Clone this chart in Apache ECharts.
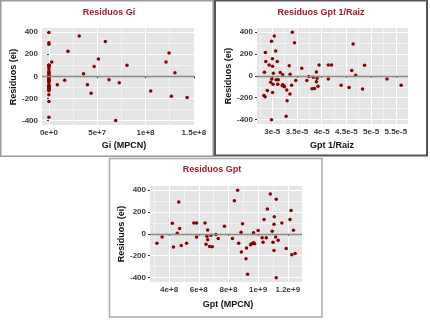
<!DOCTYPE html>
<html>
<head>
<meta charset="utf-8">
<script src="https://cdn.jsdelivr.net/npm/echarts@6/dist/echarts.min.js"></script>
<style>
html,body{margin:0;padding:0;background:#fff;}
#c{width:430px;height:324px;}
</style>
</head>
<body>
<div id="c"></div>
<script>
// Residuals (ei), shared by the three panels
const residuos = [-85,-30,291,97,-121,6,48,-106,-85,100,
  100,-30,100,36,-21,-94,-55,-12,-115,-118,
  -6,-42,70,397,303,91,15,-42,-85,-167,
  -130,-227,-370,-100,-91,-82,-91,9,30,-36,
  -76,-36,130,227,364,315,157,88,24,-30,
  -76,-58,-152,-400,100,-133,130,212,33,-191,-179];
// Gi (MPCN)
const gi = [0,0,0,0,0,0,0,0,0,0,
  0,0,0,0,0,0,0,0,0,0,
  0,0,0,0,0,0,0,0,0,0,
  0,0,0,0,0,0,0,0,0,0,
  3.99e7,1.63e7,2.9e6,1.97e7,3.14e7,5.84e7,5.12e7,4.68e7,3.58e7,6.22e7,
  8.7e6,7.28e7,4.37e7,6.91e7,8.08e7,1.054e8,1.212e8,1.243e8,1.304e8,1.43e8,1.267e8];
// Gpt (MPCN)
const gpt = [3.18e8,3.53e8,4.65e8,4.22e8,4.29e8,4.55e8,4.71e8,4.82e8,5.18e8,5.67e8,
  5.85e8,5.85e8,6.42e8,6.60e8,6.55e8,6.49e8,6.60e8,6.82e8,6.73e8,6.91e8,
  7.15e8,7.31e8,7.73e8,8.62e8,8.40e8,8.95e8,8.85e8,8.27e8,8.69e8,8.87e8,
  9.22e8,9.18e8,9.29e8,9.49e8,9.56e8,9.69e8,9.76e8,9.69e8,1.000e9,1.027e9,
  1.033e9,1.055e9,1.040e9,1.062e9,1.082e9,1.122e9,1.109e9,1.107e9,1.095e9,1.118e9,
  1.100e9,1.135e9,1.107e9,1.122e9,1.160e9,1.189e9,1.215e9,1.222e9,1.238e9,1.227e9,1.249e9];
// Gpt 1/Raiz
const gptRaiz = [5.608e-5,5.322e-5,4.637e-5,4.868e-5,4.828e-5,4.688e-5,4.608e-5,4.555e-5,4.394e-5,4.200e-5,
  4.134e-5,4.134e-5,3.947e-5,3.893e-5,3.907e-5,3.925e-5,3.893e-5,3.829e-5,3.855e-5,3.804e-5,
  3.740e-5,3.699e-5,3.597e-5,3.406e-5,3.450e-5,3.343e-5,3.361e-5,3.477e-5,3.392e-5,3.358e-5,
  3.293e-5,3.300e-5,3.281e-5,3.246e-5,3.234e-5,3.212e-5,3.201e-5,3.212e-5,3.162e-5,3.120e-5,
  3.111e-5,3.079e-5,3.101e-5,3.069e-5,3.040e-5,2.985e-5,3.003e-5,3.006e-5,3.022e-5,2.991e-5,
  3.015e-5,2.968e-5,3.006e-5,2.985e-5,2.936e-5,2.900e-5,2.869e-5,2.861e-5,2.842e-5,2.855e-5,2.830e-5];
// Tick spacing per axis
const yStep = 200;
const giStep = 5e7;
const raizStep = 5e-6;
const gptStep = 2e8;
const zeroRef = 0;

const titles = ['Residuos Gi', 'Residuos Gpt 1/Raiz', 'Residuos Gpt'];
const xTitles = ['Gi (MPCN)', 'Gpt 1/Raiz', 'Gpt (MPCN)'];
const yTitle = 'Residuos (ei)';

const FONT = '"Liberation Sans", Arial, sans-serif';
const PT = '#8B0000';

function ext(a){
  const mn = Math.min.apply(null,a), mx = Math.max.apply(null,a);
  const p = (mx-mn)*0.05;
  return [mn-p, mx+p];
}
function sci(v){
  if (Math.abs(v) < 1e-30) return '0e+0';
  const e = Math.floor(Math.log10(Math.abs(v)) + 1e-9);
  const m = parseFloat((v/Math.pow(10,e)).toPrecision(4));
  return m + 'e' + (e<0?'-':'+') + Math.abs(e);
}
function xAxisCfg(gridIndex, arr, step){
  const e = ext(arr);
  return {
    type:'value', gridIndex, min:e[0], max:e[1], minInterval:step, maxInterval:step, splitNumber:3,
    axisLine:{show:false},
    axisTick:{show:true, length:2, lineStyle:{color:'#333', width:1}},
    axisLabel:{fontSize:8, fontWeight:'bold', color:'#3a3a3a', fontFamily:FONT, margin:4,
      showMinLabel:false, showMaxLabel:false, formatter:sci},
    splitLine:{show:true, showMinLine:false, showMaxLine:false, lineStyle:{color:'#ffffff', width:1}},
    minorTick:{show:false, splitNumber:2},
    minorSplitLine:{show:true, lineStyle:{color:'#f2f2f2', width:1}}
  };
}
function yAxisCfg(gridIndex){
  const e = ext(residuos);
  return {
    type:'value', gridIndex, min:e[0], max:e[1], minInterval:yStep, maxInterval:yStep, splitNumber:4,
    axisLine:{show:false},
    axisTick:{show:true, length:2, lineStyle:{color:'#333', width:1}},
    axisLabel:{fontSize:8, fontWeight:'bold', color:'#3a3a3a', fontFamily:FONT, margin:4,
      showMinLabel:false, showMaxLabel:false},
    splitLine:{show:true, showMinLine:false, showMaxLine:false, lineStyle:{color:'#ffffff', width:1}},
    minorTick:{show:false, splitNumber:2},
    minorSplitLine:{show:true, lineStyle:{color:'#f2f2f2', width:1}}
  };
}
function series(i, xs){
  return {
    type:'scatter', xAxisIndex:i, yAxisIndex:i, symbol:'circle', symbolSize:3.5,
    itemStyle:{color:PT, opacity:1},
    data: xs.map((x,k)=>[x, residuos[k]]),
    markLine:{silent:true, symbol:'none', label:{show:false}, animation:false,
      lineStyle:{color:'#8c8c8c', width:1.4, type:'solid'},
      emphasis:{disabled:true},
      data:[{yAxis:zeroRef}]},
    z:3
  };
}
function txt(x,y,text,opts){
  return Object.assign({type:'text', x, y, silent:true, style:Object.assign({text, align:'center', verticalAlign:'middle',
    font:'bold 9px ' + FONT, fill:'#111'}, opts||{})});
}

const grids = [
  {left:42, top:28, width:152, height:97},
  {left:257, top:28, width:151, height:96},
  {left:150, top:186, width:152, height:96}
].map(g=>Object.assign(g,{show:true, backgroundColor:'#e5e5e5', borderWidth:0, containLabel:false}));

const option = {
  animation:false,
  backgroundColor:'#ffffff',
  grid: grids,
  xAxis:[xAxisCfg(0, gi, giStep), xAxisCfg(1, gptRaiz, raizStep), xAxisCfg(2, gpt, gptStep)],
  yAxis:[yAxisCfg(0), yAxisCfg(1), yAxisCfg(2)],
  series:[series(0, gi), series(1, gptRaiz), series(2, gpt)],
  graphic:[
    {type:'rect', silent:true, shape:{x:0.75, y:0.75, width:212.5, height:155.5}, style:{fill:'none', stroke:'#9a9a9a', lineWidth:1.5}},
    {type:'rect', silent:true, shape:{x:215, y:0.5, width:212, height:155}, style:{fill:'none', stroke:'#555555', lineWidth:2}},
    {type:'rect', silent:true, shape:{x:109.5, y:158.5, width:212.5, height:158.5}, style:{fill:'none', stroke:'#aaaaaa', lineWidth:1.5}},
    txt(109, 13, titles[0], {fill:'#9E1A2E'}),
    txt(321, 13, titles[1], {fill:'#9E1A2E'}),
    txt(212, 170, titles[2], {fill:'#9E1A2E'}),
    txt(124, 146, xTitles[0]),
    txt(332, 146, xTitles[1]),
    txt(228, 305, xTitles[2]),
    txt(14, 77, yTitle, {}), 
    txt(229, 76, yTitle, {}),
    txt(122, 234, yTitle, {})
  ].map((g,i)=>{ if (i>=9) g.rotation = Math.PI/2; return g; })
};

const chart = echarts.init(document.getElementById('c'), null, {renderer:'canvas'});
chart.setOption(option);
</script>
</body>
</html>
